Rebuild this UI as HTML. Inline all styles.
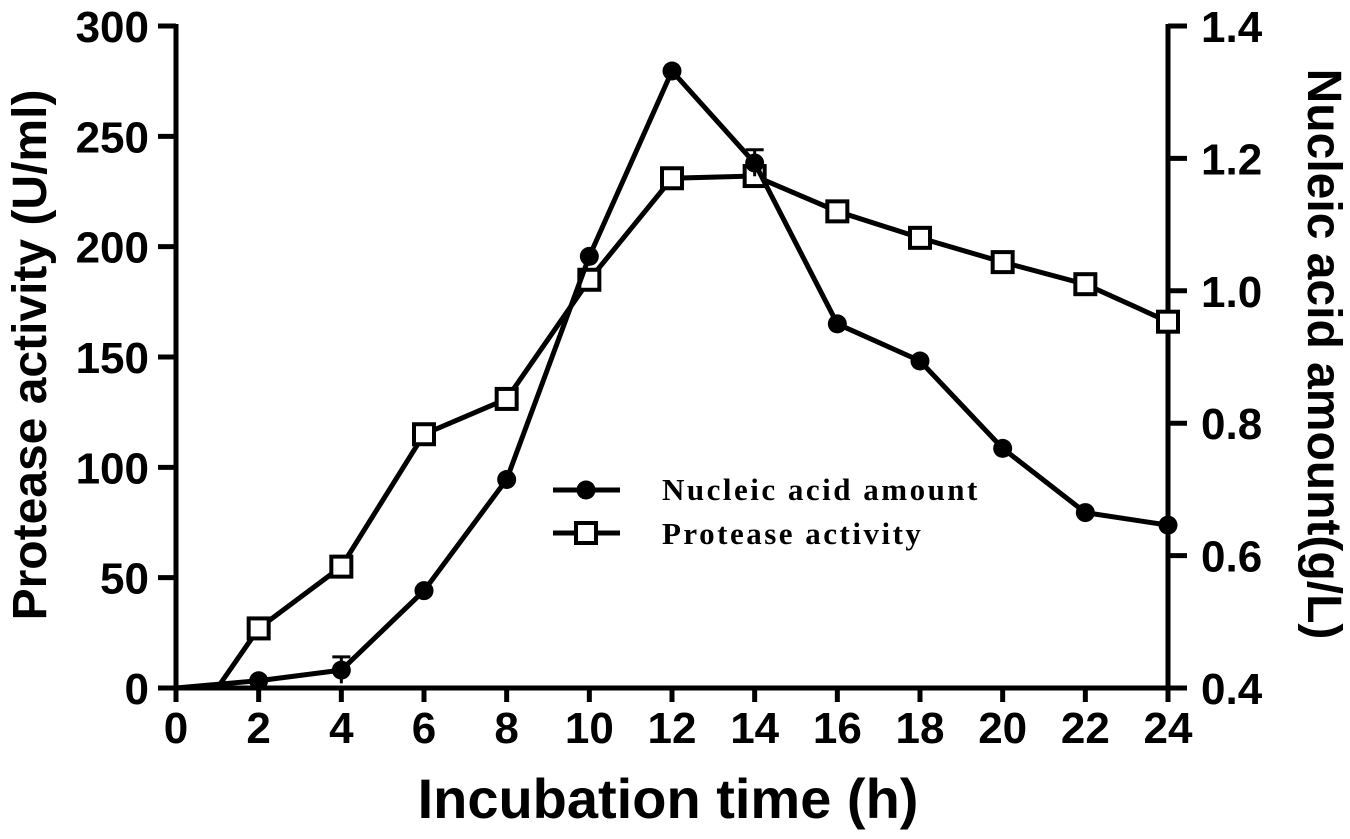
<!DOCTYPE html>
<html><head><meta charset="utf-8"><style>
html,body{margin:0;padding:0;background:#fff;}
svg{display:block;font-family:"Liberation Sans",Arial,sans-serif;}
</style></head><body>
<svg id="chart" width="1350" height="839" viewBox="0 0 1350 839"></svg>
<script>
const hours = [0,2,4,6,8,10,12,14,16,18,20,22,24];
const nucleicAcid = [0.40,0.411,0.427,0.547,0.715,1.052,1.332,1.193,0.950,0.894,0.762,0.665,0.646];
const proteaseHours = [0,1,2,4,6,8,10,12,14,16,18,20,22,24];
const protease = [0,0,27,55,115,131,185,231,232,216,204,193,183,166];
const xTicks = [0,2,4,6,8,10,12,14,16,18,20,22,24];
const leftTicks = [0,50,100,150,200,250,300];
const rightTicks = [0.4,0.6,0.8,1.0,1.2,1.4];

const NS="http://www.w3.org/2000/svg";
const svg=document.getElementById('chart');
const X0=176,X1=1168,Y0=688,Y1=26;
const xs=v=>X0+(v-0)/24*(X1-X0);
const yl=v=>Y0-(v/300)*(Y0-Y1);
const yr=v=>Y0-((v-0.4)/1.0)*(Y0-Y1);
function el(tag,attrs,parent){const e=document.createElementNS(NS,tag);for(const k in attrs)e.setAttribute(k,attrs[k]);(parent||svg).appendChild(e);return e;}

const axes=el('g',{stroke:'#000','stroke-width':5,fill:'none'});


el('line',{x1:X0,y1:Y1-2,x2:X0,y2:Y0+2},axes);
el('line',{x1:X0-2,y1:Y0,x2:X1+2,y2:Y0},axes);
el('line',{x1:X1,y1:Y1-2,x2:X1,y2:Y0+2},axes);

xTicks.forEach(t=>{
  const x=xs(t);
  el('line',{x1:x,y1:Y0,x2:x,y2:Y0+14,stroke:'#000','stroke-width':5});
  const tx=el('text',{x:x,y:Y0+55,'text-anchor':'middle','font-size':44,'font-weight':'bold'});
  tx.textContent=t;
  
  
});
leftTicks.forEach(t=>{
  const y=yl(t);
  el('line',{x1:X0-18,y1:y,x2:X0,y2:y,stroke:'#000','stroke-width':5});
  const tx=el('text',{x:X0-27,y:y+16,'text-anchor':'end','font-size':44,'font-weight':'bold'});
  tx.textContent=t;
  
  
});
rightTicks.forEach(t=>{
  const y=yr(t);
  el('line',{x1:X1,y1:y,x2:X1+19,y2:y,stroke:'#000','stroke-width':5});
  const tx=el('text',{x:X1+33,y:y+16,'text-anchor':'start','font-size':44,'font-weight':'bold'});
  tx.textContent=t.toFixed(1);
  
  
});

let t=el('text',{x:668,y:818,'text-anchor':'middle','font-size':56,'font-weight':'bold'});
t.textContent='Incubation time (h)';


t=el('text',{x:0,y:0,'text-anchor':'middle','font-size':48,'font-weight':'bold',transform:'translate(46,355) rotate(-90)'});
t.textContent='Protease activity (U/ml)';


t=el('text',{x:0,y:0,'text-anchor':'middle','font-size':48,'font-weight':'bold',transform:'translate(1308,354) rotate(90)'});
t.textContent='Nucleic acid amount(g/L)';



const pp=proteaseHours.map((h,i)=>xs(h)+','+yl(protease[i])).join(' ');
const pl=el('polyline',{points:pp,fill:'none',stroke:'#000','stroke-width':5});


proteaseHours.forEach((h,i)=>{
  if(h<2)return;
  const r=el('rect',{x:xs(h)-10,y:yl(protease[i])-10,width:20,height:20,fill:'#fff',stroke:'#000','stroke-width':4});
  
  
});
const np=hours.map((h,i)=>xs(h)+','+yr(nucleicAcid[i])).join(' ');
const nl=el('polyline',{points:np,fill:'none',stroke:'#000','stroke-width':5});


[[4,0.02],[14,0.02]].forEach(([h,e])=>{
  const i=hours.indexOf(h);const x=xs(h);
  el('line',{x1:x,y1:yr(nucleicAcid[i]-e),x2:x,y2:yr(nucleicAcid[i]+e),stroke:'#000','stroke-width':3});
  el('line',{x1:x-9,y1:yr(nucleicAcid[i]+e),x2:x+9,y2:yr(nucleicAcid[i]+e),stroke:'#000','stroke-width':3});
});
hours.forEach((h,i)=>{
  if(h<2)return;
  const c=el('circle',{cx:xs(h),cy:yr(nucleicAcid[i]),r:9.5,fill:'#000'});
  
  
});

const lg=el('g',{});


const l1=el('g',{},lg);


el('line',{x1:553,y1:490,x2:620,y2:490,stroke:'#000','stroke-width':5},l1);
el('circle',{cx:586,cy:490,r:9.5,fill:'#000'},l1);
let lt=el('text',{x:662,y:500,'font-size':31,'font-weight':'bold','font-family':'"Liberation Serif",serif','letter-spacing':'2.5'},l1);
lt.textContent='Nucleic acid amount';
const l2=el('g',{},lg);


el('line',{x1:553,y1:533,x2:620,y2:533,stroke:'#000','stroke-width':5},l2);
el('rect',{x:576,y:523,width:20,height:20,fill:'#fff',stroke:'#000','stroke-width':4},l2);
lt=el('text',{x:662,y:544,'font-size':31,'font-weight':'bold','font-family':'"Liberation Serif",serif','letter-spacing':'2.5'},l2);
lt.textContent='Protease activity';
</script>
</body></html>
